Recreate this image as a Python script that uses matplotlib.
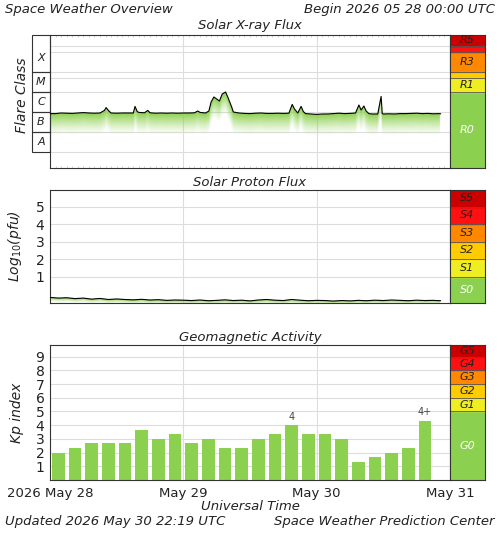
import numpy as np
import matplotlib
matplotlib.use("Agg")
import matplotlib.pyplot as plt
from matplotlib.colors import to_rgb
import matplotlib.transforms as mtrans

# ---------------- data ----------------
xray_hours = [0, 1, 2, 3, 4, 5, 6, 7, 8, 9, 9.8, 10.1, 10.6, 11, 12, 13, 14, 15, 15.3, 15.7, 16, 17, 17.6, 18, 19,
              20, 21, 22, 23, 24, 25, 26, 26.6, 27, 28, 28.6, 29, 29.5, 30, 30.5, 31, 31.6, 32, 32.7, 33, 34, 35,
              36, 37, 38, 39, 40, 41, 42, 43, 43.6, 44, 44.6, 45.2, 45.6, 46, 47, 48, 49, 50, 51, 52, 53, 54,
              55, 55.6, 56, 56.5, 56.9, 57.4, 58, 59, 59.6, 59.8, 60, 61, 62, 63, 64, 65, 66, 67, 68, 69, 70, 70.3]
xray_log = [-6.08, -6.08, -6.05, -6.06, -6.07, -6.05, -6.03, -6.05, -6.06, -6.05, -5.92, -5.78, -5.95, -6.05,
            -6.06, -6.05, -6.05, -6.05, -5.72, -5.98, -6.02, -6.04, -5.92, -6.04, -6.06, -6.05, -6.06, -6.05,
            -6.06, -6.05, -6.05, -6.04, -5.95, -6.02, -6.05, -5.95, -5.5, -5.25, -5.35, -5.45, -5.1, -5.0,
            -5.25, -5.75, -6.0, -6.05, -6.07, -6.08, -6.06, -6.05, -6.07, -6.07, -6.06, -6.07, -6.06, -5.62,
            -5.85, -6.05, -5.72, -5.98, -6.08, -6.1, -6.12, -6.1, -6.1, -6.08, -6.06, -6.08, -6.07, -6.05,
            -5.65, -5.9, -5.7, -5.95, -6.08, -6.1, -6.1, -5.22, -6.08, -6.1, -6.09, -6.1, -6.08, -6.08,
            -6.07, -6.06, -6.08, -6.07, -6.09, -6.08, -6.09]

proton_hours = [0, 1.5, 3, 4.5, 6, 7.5, 9, 10.5, 12, 13.5, 15, 16.5, 18, 19.5, 21, 22.5, 24, 25.5, 27, 28.5,
                30, 31.5, 33, 34.5, 36, 37.5, 39, 40.5, 42, 43.5, 45, 46.5, 48, 49.5, 51, 52.5, 54, 55.5,
                57, 58.5, 60, 61.5, 63, 64.5, 66, 67.5, 69, 70.3]
proton_log = [-0.18, -0.22, -0.2, -0.25, -0.22, -0.28, -0.24, -0.3, -0.27, -0.3, -0.32, -0.29, -0.33, -0.31,
              -0.35, -0.33, -0.34, -0.36, -0.33, -0.37, -0.35, -0.32, -0.36, -0.34, -0.38, -0.33, -0.3,
              -0.34, -0.36, -0.3, -0.34, -0.37, -0.35, -0.36, -0.39, -0.36, -0.38, -0.35, -0.37, -0.34,
              -0.36, -0.33, -0.35, -0.37, -0.34, -0.36, -0.35, -0.37]

kp_values = [2.0, 2.33, 2.67, 2.67, 2.67, 3.67, 3.0, 3.33, 2.67, 3.0, 2.33, 2.33, 3.0, 3.33, 4.0, 3.33,
             3.33, 3.0, 1.33, 1.67, 2.0, 2.33, 4.33]
kp_labels = {14: "4", 22: "4+"}

day_labels = ["2026 May 28", "May 29", "May 30", "May 31"]
flare_classes = ["A", "B", "C", "M", "X"]

# ---------------- style ----------------
plt.rcParams['font.family'] = ["DejaVu Sans"]
TXT = "#222222"
GREEN = "#8cd04f"
GRID = "#dddddd"
W, H = 500, 533
fig = plt.figure(figsize=(5, 5.33), dpi=100)

def ax_rect(x0, y0, x1, y1):
    return [x0 / W, 1 - y1 / H, (x1 - x0) / W, (y1 - y0) / H]

def base_axes(y0, y1, ylim):
    ax = fig.add_axes(ax_rect(50, y0, 450, y1))
    ax.set_xlim(0, 72)
    ax.set_ylim(*ylim)
    ax.set_facecolor("white")
    for s in ax.spines.values():
        s.set_color("#333333"); s.set_linewidth(0.8)
    ax.set_xticks([0, 24, 48, 72])
    ax.set_xticklabels([])
    ax.tick_params(axis='x', length=0)
    for d in [24, 48]:
        ax.axvline(d, color=GRID, lw=0.8, zorder=0)
    return ax

def gradient_fill(ax, xs, ys, depth, bottom, top):
    gx = np.linspace(0, 72, 600)
    line = np.interp(gx, xs, ys, left=np.nan, right=np.nan)
    gy = np.linspace(bottom, top, 400)
    dist = line[None, :] - gy[:, None]
    alpha = np.clip(1 - dist / depth, 0, 1) ** 1.3
    alpha[dist < 0] = 0
    alpha = np.nan_to_num(alpha)
    img = np.zeros((len(gy), len(gx), 4))
    img[..., :3] = to_rgb(GREEN)
    img[..., 3] = alpha
    ax.imshow(img, extent=[0, 72, bottom, top], origin='lower', aspect='auto', zorder=1,
              interpolation='bilinear')
    ax.plot(xs, ys, color="black", lw=0.8, zorder=3)

def side_bar(y0, y1, ylim, bands, labels_pos):
    cb = fig.add_axes(ax_rect(450, y0, 485, y1))
    cb.set_xlim(0, 1); cb.set_ylim(*ylim)
    cb.set_xticks([]); cb.set_yticks([])
    for s in cb.spines.values():
        s.set_color("#333333"); s.set_linewidth(0.8)
    for lo, hi, c in bands:
        cb.axhspan(lo, hi, color=c, zorder=0)
        cb.axhline(lo, color="#555555", lw=0.6)
    for txt, yy, c in labels_pos:
        cb.text(0.5, yy, txt, ha='center', va='center', fontsize=8, style='italic', color=c)
    return cb

FS = 9.5
fig.text(5 / W, 1 - 10 / H, "Space Weather Overview", fontsize=FS, style='italic', color=TXT, va='center')
fig.text(495 / W, 1 - 10 / H, "Begin 2026 05 28 00:00 UTC", fontsize=FS, style='italic', color=TXT,
         va='center', ha='right')
fig.text(250 / W, 1 - 507 / H, "Universal Time", fontsize=FS, style='italic', color=TXT, va='center', ha='center')
fig.text(5 / W, 1 - 522 / H, "Updated 2026 May 30 22:19 UTC", fontsize=FS, style='italic', color=TXT, va='center')
fig.text(495 / W, 1 - 522 / H, "Space Weather Prediction Center", fontsize=FS, style='italic', color=TXT,
         va='center', ha='right')

# ---------- X-ray ----------
ax1 = base_axes(35, 168, (-8.8, -2.15))
fig.text(250 / W, 1 - 25 / H, "Solar X-ray Flux", fontsize=FS, style='italic', color=TXT, ha='center', va='center')
for v in [-8, -7, -6, -5, -4, -4.3, -3.0, -2.7]:
    ax1.axhline(v, color=GRID, lw=0.8, zorder=0)
ax1.set_yticks([])
hrs = np.arange(1, 72)
ax1.vlines(hrs, -2.15 - 0.12, -2.15, color="#d0d0d0", lw=0.7, zorder=0)
ax1.vlines(hrs, -8.8, -8.8 + 0.12, color="#d0d0d0", lw=0.7, zorder=0)
gradient_fill(ax1, xray_hours, xray_log, 1.1, -8.8, -2.15)
tr = mtrans.blended_transform_factory(ax1.transAxes, ax1.transData)
bounds = [(-8, -7), (-7, -6), (-6, -5), (-5, -4), (-4, -2.15)]
box_x0 = -18 / 400
for name, (lo, hi) in zip(flare_classes, bounds):
    ax1.add_patch(plt.Rectangle((box_x0, lo), -box_x0, hi - lo, transform=tr, fill=False,
                                edgecolor="#333333", lw=0.8, clip_on=False))
    ax1.text(box_x0 / 2, (lo + hi) / 2 if name != "X" else -3.3, name, transform=tr, ha='center', va='center',
             fontsize=8, style='italic', color=TXT)
fig.text(22 / W, 1 - 95 / H, "Flare Class", rotation=90, fontsize=10, style='italic', color=TXT,
         ha='center', va='center')
side_bar(35, 168, (-8.8, -2.15),
         [(-8.8, -5, GREEN), (-5, -4.3, "#eeee22"), (-4.3, -4, "#ffcc00"), (-4, -3, "#ff8800"),
          (-3, -2.7, "#ff1111"), (-2.7, -2.15, "#cc0000")],
         [("R0", -6.9, "white"), ("R1", -4.65, TXT), ("R3", -3.5, TXT), ("R5", -2.42, TXT)])

# ---------- Proton ----------
ax2 = base_axes(190, 303, (-0.5, 5.95))
fig.text(250 / W, 1 - 183 / H, "Solar Proton Flux", fontsize=FS, style='italic', color=TXT, ha='center', va='center')
for v in range(1, 6):
    ax2.axhline(v, color=GRID, lw=0.8, zorder=0)
ax2.set_yticks(range(1, 6))
ax2.tick_params(axis='y', length=0, labelsize=10, labelcolor=TXT, pad=4)
ax2.set_ylabel(r"Log$_{10}$(pfu)", fontsize=10, style='italic', color=TXT, labelpad=8)
gradient_fill(ax2, proton_hours, proton_log, 0.25, -0.5, 5.95)
side_bar(190, 303, (-0.5, 5.95),
         [(-0.5, 1, GREEN), (1, 2, "#eeee22"), (2, 3, "#ffcc00"), (3, 4, "#ff8800"), (4, 5, "#ff1111"),
          (5, 5.95, "#cc0000")],
         [("S0", 0.25, "white"), ("S1", 1.5, TXT), ("S2", 2.5, TXT), ("S3", 3.5, TXT), ("S4", 4.5, TXT),
          ("S5", 5.5, TXT)])

# ---------- Kp ----------
ax3 = base_axes(345, 480, (0, 9.85))
fig.text(250 / W, 1 - 337 / H, "Geomagnetic Activity", fontsize=FS, style='italic', color=TXT, ha='center', va='center')
for v in range(1, 10):
    ax3.axhline(v, color=GRID, lw=0.8, zorder=0)
ax3.set_yticks(range(1, 10))
ax3.tick_params(axis='y', length=0, labelsize=10, labelcolor=TXT, pad=4)
ax3.set_ylabel("Kp index", fontsize=10, style='italic', color=TXT, labelpad=8)
xs = np.arange(len(kp_values)) * 3 + 1.5
ax3.bar(xs, kp_values, width=2.3, color=GREEN, zorder=2)
for i, lab in kp_labels.items():
    ax3.text(xs[i], kp_values[i] + 0.25, lab, ha='center', va='bottom', fontsize=7, color="#444444")
ax3.set_xticklabels(day_labels, fontsize=9.5, color=TXT)
ax3.tick_params(axis='x', pad=5)
side_bar(345, 480, (0, 9.85),
         [(0, 5, GREEN), (5, 6, "#eeee22"), (6, 7, "#ffcc00"), (7, 8, "#ff8800"), (8, 9, "#ff1111"),
          (9, 9.85, "#cc0000")],
         [("G0", 2.5, "white"), ("G1", 5.5, TXT), ("G2", 6.5, TXT), ("G3", 7.5, TXT), ("G4", 8.5, TXT),
          ("G5", 9.42, TXT)])

fig.savefig("out.png", dpi=100)
